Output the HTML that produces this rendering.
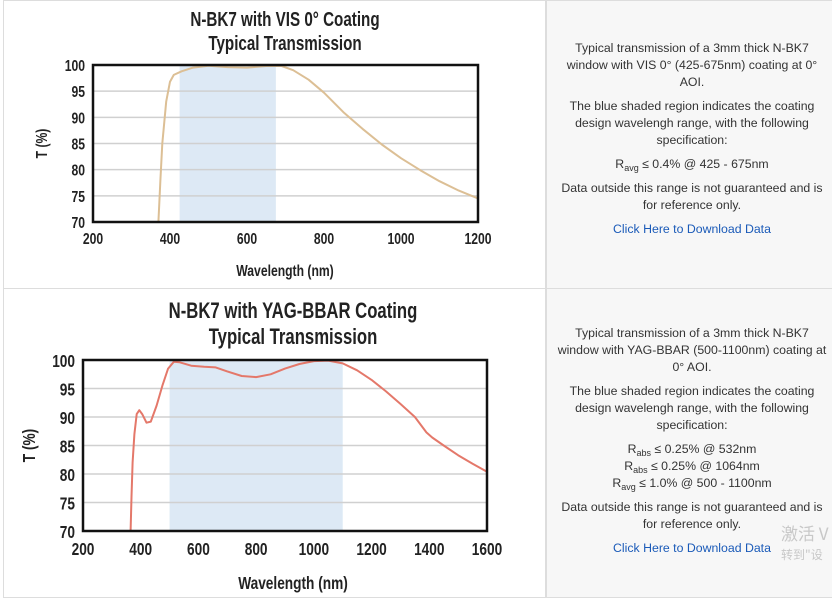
<!DOCTYPE html>
<html><head><meta charset="utf-8"><style>
body{margin:0;width:832px;height:595px;background:#fff;overflow:hidden;font-family:"Liberation Sans",sans-serif;position:relative}
.cellL{position:absolute;left:3px;width:543px;border:1px solid #ddd;background:#fff;box-sizing:border-box}
.cellR{position:absolute;left:546px;width:290px;border:1px solid #ddd;background:#f7f7f7;box-sizing:border-box}
.txt{position:absolute;left:555px;width:274px;text-align:center;font-size:12.3px;color:#333;line-height:17px}
.txt p{margin:0 0 7px 0}
.txt a{color:#1a5ab8;text-decoration:none}
sub{font-size:9px;vertical-align:-3px;line-height:0}
svg{position:absolute;left:0;top:0}
svg text{font-family:"Liberation Sans",sans-serif;font-weight:bold;fill:#222}
</style></head><body>
<div class="cellL" style="top:0;height:289px"></div>
<div class="cellR" style="top:0;height:289px"></div>
<div class="cellL" style="top:288px;height:310px"></div>
<div class="cellR" style="top:288px;height:310px"></div>

<div class="txt" style="top:40px">
<p>Typical transmission of a 3mm thick N-BK7<br>window with VIS 0° (425-675nm) coating at 0°<br>AOI.</p>
<p>The blue shaded region indicates the coating design wavelengh range, with the following specification:</p>
<p>R<sub>avg</sub> ≤ 0.4% @ 425 - 675nm</p>
<p>Data outside this range is not guaranteed and is for reference only.</p>
<p><a>Click Here to Download Data</a></p>
</div>
<div class="txt" style="top:325px">
<p>Typical transmission of a 3mm thick N-BK7<br>window with YAG-BBAR (500-1100nm) coating at<br>0° AOI.</p>
<p>The blue shaded region indicates the coating design wavelengh range, with the following specification:</p>
<p>R<sub>abs</sub> ≤ 0.25% @ 532nm<br>R<sub>abs</sub> ≤ 0.25% @ 1064nm<br>R<sub>avg</sub> ≤ 1.0% @ 500 - 1100nm</p>
<p>Data outside this range is not guaranteed and is for reference only.</p>
<p><a>Click Here to Download Data</a></p>
</div>
<div style="position:absolute;left:781px;top:520px;font-size:17px;color:#c8c8c8;font-family:'Noto Sans CJK SC',sans-serif">激活 V</div>
<div style="position:absolute;left:781px;top:546px;font-size:12px;color:#c8c8c8;font-family:'Noto Sans CJK SC',sans-serif">转到"设</div>

<svg id="s" width="832" height="595"></svg>
<script>
var s=document.getElementById('s'),h='';
function T(x,y,a,fs,str,rot){
 return '<g transform="translate('+x+' '+y+')'+(rot?' rotate(-90)':'')+' scale(0.76 1)"><text x="0" y="0" text-anchor="'+a+'" font-size="'+fs+'">'+str+'</text></g>';
}
function chart(o){
 var X=function(w){return o.x0+(w-o.w0)*(o.x1-o.x0)/(o.w1-o.w0)},Y=function(t){return o.y1-(t-70)*(o.y1-o.y0)/30};
 h+='<rect x="'+X(o.s0)+'" y="'+o.y0+'" width="'+(X(o.s1)-X(o.s0))+'" height="'+(o.y1-o.y0)+'" fill="#dde9f5"/>';
 for(var t=75;t<100;t+=5)h+='<line x1="'+o.x0+'" x2="'+o.x1+'" y1="'+Y(t)+'" y2="'+Y(t)+'" stroke="#d0d0d0" stroke-width="1.5"/>';
 for(t=70;t<=100;t+=5)h+=T(o.x0-8,Y(t)+o.fs*0.38,'end',o.fs,t);
 for(var w=o.w0;w<=o.w1;w+=200)h+=T(X(w),o.y1+o.fs+6,'middle',o.fs,w);
 var p=o.pts.map(function(q,i){return (i?'L':'M')+X(q[0]).toFixed(1)+' '+Y(q[1]).toFixed(1)}).join('');
 h+='<path d="'+p+'" fill="none" stroke="'+o.col+'" stroke-width="2" stroke-linejoin="round"/>';
 h+='<rect x="'+o.x0+'" y="'+o.y0+'" width="'+(o.x1-o.x0)+'" height="'+(o.y1-o.y0)+'" fill="none" stroke="#111" stroke-width="2.5"/>';
 h+=T(o.tx,o.ty,'middle',o.tfs,o.t1);
 h+=T(o.tx,o.ty+o.tfs+4,'middle',o.tfs,'Typical Transmission');
 h+=T(o.tx,o.xl,'middle',o.afs,'Wavelength (nm)');
 var cy=(o.y0+o.y1)/2;
 h+=T(o.yl,cy,'middle',o.afs,'T (%)',1);
}
chart({x0:93,x1:478,y0:65,y1:222,w0:200,w1:1200,s0:425,s1:675,fs:16,tfs:20,afs:16,col:"#dcbf95",tx:285,ty:26,t1:"N-BK7 with VIS 0° Coating",xl:276,yl:47,
pts:[[370,70],[375,78],[380,85],[390,93],[400,96.8],[410,98.1],[430,98.8],[460,99.5],[500,99.85],[550,99.6],[600,99.5],[650,99.8],[690,99.8],[720,99],[760,97.2],[800,94.7],[850,91],[900,87.8],[950,84.8],[1000,82.2],[1050,79.9],[1100,77.8],[1150,76],[1200,74.5]]});
chart({x0:83,x1:487,y0:360,y1:531,w0:200,w1:1600,s0:500,s1:1100,fs:18,tfs:22,afs:18,col:"#e4786a",tx:293,ty:318,t1:"N-BK7 with YAG-BBAR Coating",xl:589,yl:35,
pts:[[365,70],[368,76],[372,82],[378,87],[386,90.5],[395,91.2],[405,90.5],[420,89],[435,89.2],[455,92],[475,95.5],[495,98.5],[515,99.7],[535,99.6],[575,99],[620,98.8],[660,98.7],[700,98],[750,97.2],[800,97],[850,97.5],[900,98.5],[950,99.3],[1000,99.8],[1050,99.9],[1100,99.4],[1150,98.2],[1200,96.5],[1250,94.5],[1300,92.3],[1350,90],[1390,87.3],[1410,86.4],[1450,85],[1500,83.3],[1550,81.8],[1600,80.4]]});
s.innerHTML=h;
</script>
</body></html>
